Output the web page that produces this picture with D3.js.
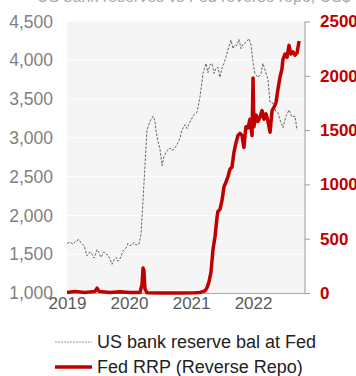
<!DOCTYPE html>
<html>
<head>
<meta charset="utf-8">
<script src="https://cdn.jsdelivr.net/npm/d3@7"></script>
<style>
  body { margin: 0; background: #fff; }
  svg { font-family: Arial, "Liberation Sans", sans-serif; display: block; }
</style>
</head>
<body>
<svg id="chart"></svg>
<script>
// US bank reserve balances at the Fed (US$ bn, left axis)
const reserveDates = [
  "2019-01-01","2019-01-19","2019-02-05","2019-02-23","2019-03-13","2019-03-24","2019-04-11","2019-04-29",
  "2019-05-16","2019-05-28","2019-06-09","2019-06-27","2019-07-08","2019-07-20","2019-08-07","2019-08-19",
  "2019-08-30","2019-09-11","2019-09-23","2019-10-05","2019-10-17","2019-10-28","2019-11-09","2019-11-27",
  "2019-12-15","2019-12-26","2020-01-07","2020-01-19","2020-01-31","2020-02-11","2020-02-29","2020-03-12",
  "2020-03-24","2020-04-04","2020-04-16","2020-05-04","2020-05-22","2020-06-02","2020-06-08","2020-06-20",
  "2020-07-02","2020-07-14","2020-07-25","2020-08-06","2020-08-18","2020-08-30","2020-09-10","2020-09-22",
  "2020-10-10","2020-10-28","2020-11-08","2020-11-26","2020-12-08","2020-12-20","2020-12-31","2021-01-18",
  "2021-02-05","2021-02-22","2021-03-12","2021-03-30","2021-04-10","2021-04-22","2021-05-04","2021-05-16",
  "2021-05-28","2021-06-08","2021-06-20","2021-07-02","2021-07-14","2021-07-25","2021-08-06","2021-08-24",
  "2021-09-05","2021-09-17","2021-09-28","2021-10-10","2021-10-22","2021-11-03","2021-11-20","2021-12-08",
  "2021-12-20","2022-01-01","2022-01-12","2022-01-30","2022-02-17","2022-02-28","2022-03-12","2022-03-30",
  "2022-04-11","2022-04-28","2022-05-16","2022-05-28","2022-06-09","2022-06-26","2022-07-14","2022-08-01",
  "2022-08-18","2022-09-05","2022-09-17"
];
const reserveValues = [
  1640,1655,1630,1670,1690,1650,1610,1480,
  1530,1500,1450,1560,1520,1460,1530,1500,
  1490,1440,1370,1430,1460,1410,1440,1540,
  1580,1640,1610,1620,1650,1620,1630,1760,
  2200,2630,3100,3210,3280,3220,3100,2950,
  2850,2640,2760,2810,2850,2870,2840,2850,
  2910,3000,3100,3170,3120,3180,3230,3300,
  3330,3520,3830,3960,3840,3940,3960,3830,
  3900,3910,3780,3900,3960,4040,4130,4260,
  4150,4200,4190,4270,4150,4210,4230,4280,
  4200,3960,3830,3780,3830,3960,3880,3750,
  3460,3450,3340,3320,3230,3130,3280,3360,
  3270,3280,3100
];

// Fed RRP (reverse repo) balances (US$ bn, right axis)
const rrpDates = [
  "2019-01-01","2019-02-17","2019-04-17","2019-06-15","2019-06-27","2019-07-08","2019-09-11","2019-11-09",
  "2020-01-07","2020-03-06","2020-03-18","2020-03-24","2020-03-29","2020-04-04","2020-04-16","2020-07-02",
  "2020-10-28","2021-01-24","2021-02-22","2021-03-24","2021-04-05","2021-04-16","2021-04-28","2021-05-10",
  "2021-05-22","2021-06-03","2021-06-08","2021-06-20","2021-07-02","2021-07-14","2021-07-25","2021-08-06",
  "2021-08-18","2021-08-30","2021-09-11","2021-09-22","2021-10-04","2021-10-16","2021-10-28","2021-11-08",
  "2021-11-20","2021-12-02","2021-12-14","2021-12-26","2022-01-01","2022-01-06","2022-01-18","2022-01-30",
  "2022-02-11","2022-02-23","2022-03-06","2022-03-18","2022-03-30","2022-04-11","2022-04-23","2022-05-04",
  "2022-05-16","2022-05-28","2022-06-09","2022-06-20","2022-06-26","2022-07-08","2022-07-20","2022-08-01",
  "2022-08-12","2022-08-24","2022-09-05","2022-09-17","2022-09-29"
];
const rrpValues = [
  5,15,5,15,45,15,5,12,
  5,5,80,230,210,40,2,1,
  0,3,5,20,50,100,190,400,
  520,700,750,770,850,980,1020,1070,
  1140,1160,1300,1380,1450,1470,1450,1340,
  1530,1520,1600,1450,1980,1530,1640,1580,
  1620,1680,1600,1650,1580,1480,1680,1710,
  1750,1880,1990,2060,2150,2200,2170,2280,
  2200,2220,2190,2210,2320
];

const leftTicks = [1000, 1500, 2000, 2500, 3000, 3500, 4000, 4500];
const rightTicks = [0, 500, 1000, 1500, 2000, 2500];
const yearTicks = ["2019", "2020", "2021", "2022"];
const seriesNames = ["US bank reserve bal at Fed", "Fed RRP (Reverse Repo)"];
const titleText = "US bank reserves vs Fed reverse repo, US$ bn";

const width = 356, height = 376;
const margin = { top: 21.5, right: 51, bottom: 83, left: 67 };
const parse = d3.timeParse("%Y-%m-%d");
const red = "#c00000";

const svg = d3.select("#chart").attr("width", width).attr("height", height);
const chartWidth = width - margin.left - margin.right;
const chartHeight = height - margin.top - margin.bottom;

const reserves = reserveDates.map((d, i) => ({ date: parse(d), value: reserveValues[i] }));
const rrp = rrpDates.map((d, i) => ({ date: parse(d), value: rrpValues[i] }));

const x = d3.scaleTime()
  .domain([parse("2019-01-01"), parse("2022-11-03")])
  .range([0, chartWidth]);
const yL = d3.scaleLinear().domain([1000, 4500]).range([chartHeight, 0]);
const yR = d3.scaleLinear().domain([0, 2500]).range([chartHeight, 0]);

// title, mostly cut off at the top
svg.append("text")
  .attr("x", 205).attr("y", 2)
  .attr("text-anchor", "middle")
  .attr("font-size", 16)
  .attr("fill", "#aaa")
  .text(titleText);

const g = svg.append("g").attr("transform", `translate(${margin.left},${margin.top})`);

g.append("rect")
  .attr("width", chartWidth).attr("height", chartHeight)
  .attr("fill", "#f5f5f5");

g.selectAll(".grid")
  .data(leftTicks.slice(1, -1))
  .enter().append("line")
  .attr("x1", 0).attr("x2", chartWidth)
  .attr("y1", d => yL(d)).attr("y2", d => yL(d))
  .attr("stroke", "#fff").attr("stroke-width", 1);

// left axis
const leftAxis = g.append("g")
  .call(d3.axisLeft(yL).tickValues(leftTicks).tickFormat(d3.format(",")).tickSize(0).tickPadding(14));
leftAxis.selectAll("text").attr("font-size", 17.5).attr("fill", "#808080").attr("font-family", "Arial, 'Liberation Sans', sans-serif");
leftAxis.select(".domain").remove();

// right axis
const rightAxis = g.append("g")
  .attr("transform", `translate(${chartWidth},0)`)
  .call(d3.axisRight(yR).tickValues(rightTicks).tickFormat(d3.format("d")).tickSize(5).tickPadding(10));
rightAxis.selectAll("line").attr("stroke", "#999");
rightAxis.select(".domain").attr("stroke", "#999").attr("d", `M0,0V${chartHeight}`);
rightAxis.selectAll("text").attr("font-size", 17).attr("font-weight", "bold").attr("fill", red).attr("font-family", "Arial, 'Liberation Sans', sans-serif");

// bottom axis
const bottomAxis = g.append("g")
  .attr("transform", `translate(0,${chartHeight})`)
  .call(d3.axisBottom(x).tickValues(yearTicks.map(t => parse(t + "-01-01"))).tickFormat(d3.timeFormat("%Y")).tickSize(0).tickPadding(4));
bottomAxis.select(".domain").attr("stroke", "#aaa");
bottomAxis.selectAll("text").attr("font-size", 17).attr("fill", "#595959").attr("font-family", "Arial, 'Liberation Sans', sans-serif");

const lineL = d3.line().x(d => x(d.date)).y(d => yL(d.value));
const lineR = d3.line().x(d => x(d.date)).y(d => yR(d.value));

g.append("path")
  .datum(reserves)
  .attr("d", lineL)
  .attr("fill", "none")
  .attr("stroke", "#666")
  .attr("stroke-width", 1)
  .attr("stroke-dasharray", "2.5,1.5");

g.append("path")
  .datum(rrp)
  .attr("d", lineR)
  .attr("fill", "none")
  .attr("stroke", red)
  .attr("stroke-width", 3.5)
  .attr("stroke-linejoin", "round");

// legend
const legend = svg.append("g");
const legendRows = [
  { name: seriesNames[0], y: 342, stroke: "#999", w: 1, dash: "2,1" },
  { name: seriesNames[1], y: 367, stroke: red, w: 3.5, dash: null }
];
legendRows.forEach(r => {
  legend.append("line")
    .attr("x1", 55).attr("x2", 92)
    .attr("y1", r.y).attr("y2", r.y)
    .attr("stroke", r.stroke)
    .attr("stroke-width", r.w)
    .attr("stroke-dasharray", r.dash);
  legend.append("text")
    .attr("x", 97).attr("y", r.y)
    .attr("dy", "0.35em")
    .attr("font-size", 18)
    .attr("fill", "#222")
    .text(r.name);
});
</script>
</body>
</html>
